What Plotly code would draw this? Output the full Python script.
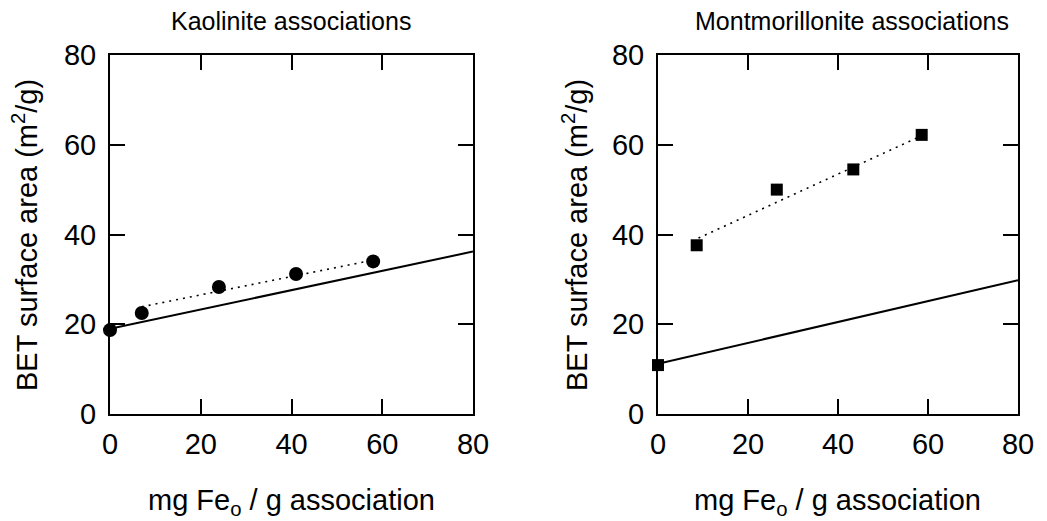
import plotly.graph_objects as go

# Kaolinite associations
kao_x = [0, 7, 24, 41, 58]
kao_y = [18.7, 22.5, 28.3, 31.2, 34.0]
kao_fit_x = [7, 58]
kao_fit_y = [23.9, 34.3]
kao_line_x = [0, 80]
kao_line_y = [19.0, 36.2]

# Montmorillonite associations
mont_x = [0, 8.6, 26.4, 43.4, 58.6]
mont_y = [10.9, 37.6, 50.0, 54.5, 62.2]
mont_fit_x = [9, 59]
mont_fit_y = [39.2, 62.2]
mont_line_x = [0, 80]
mont_line_y = [11.2, 29.8]

titles = ["Kaolinite associations", "Montmorillonite associations"]
tick_vals = [0, 20, 40, 60, 80]
x_title = "mg Fe<sub>o</sub> / g association"
y_title = "BET surface area (m<sup>2</sup>/g)"

FONT = "Liberation Sans, Arial, Helvetica, sans-serif"
W, H = 1047, 521
OFF = 8  # page body margin offset


def px(x):
    return (x - OFF) / W


def py(y):
    return 1 - (y - OFF) / H


fig = go.Figure()

# left panel
fig.add_trace(go.Scatter(x=kao_line_x, y=kao_line_y, mode="lines",
                         line=dict(color="black", width=2), xaxis="x", yaxis="y",
                         showlegend=False, cliponaxis=False))
fig.add_trace(go.Scatter(x=kao_fit_x, y=kao_fit_y, mode="lines",
                         line=dict(color="black", width=1.6, dash="2px,5px"), xaxis="x", yaxis="y",
                         showlegend=False))
fig.add_trace(go.Scatter(x=kao_x, y=kao_y, mode="markers",
                         marker=dict(symbol="circle", size=14, color="black"),
                         xaxis="x", yaxis="y", showlegend=False, cliponaxis=False))

# right panel
fig.add_trace(go.Scatter(x=mont_line_x, y=mont_line_y, mode="lines",
                         line=dict(color="black", width=2), xaxis="x2", yaxis="y2",
                         showlegend=False, cliponaxis=False))
fig.add_trace(go.Scatter(x=mont_fit_x, y=mont_fit_y, mode="lines",
                         line=dict(color="black", width=1.6, dash="2px,5px"), xaxis="x2", yaxis="y2",
                         showlegend=False))
fig.add_trace(go.Scatter(x=mont_x, y=mont_y, mode="markers",
                         marker=dict(symbol="square", size=12, color="black"),
                         xaxis="x2", yaxis="y2", showlegend=False, cliponaxis=False))

axis_common = dict(range=[0, 80], tickvals=tick_vals, showgrid=False, zeroline=False,
                   showline=True, linecolor="black", linewidth=2, mirror="ticks",
                   ticks="inside", ticklen=15, tickwidth=2, tickcolor="black",
                   automargin=False,
                   tickfont=dict(family=FONT, size=29, color="black"))

fig.update_layout(
    width=W, height=H,
    margin=dict(l=0, r=0, t=0, b=0, pad=0, autoexpand=False),
    paper_bgcolor="white", plot_bgcolor="white",
    font=dict(family=FONT, color="black"),
    xaxis=dict(domain=[px(110), px(473)], anchor="y", ticklabelstandoff=3, **axis_common),
    yaxis=dict(domain=[py(414), py(55)], anchor="x", ticklabelstandoff=6, **axis_common),
    xaxis2=dict(domain=[px(658), px(1018)], anchor="y2", ticklabelstandoff=3, **axis_common),
    yaxis2=dict(domain=[py(414), py(55)], anchor="x2", ticklabelstandoff=6, **axis_common),
)

anns = []
for text, xc, yc in [(titles[0], 291, 21), (titles[1], 852, 21)]:
    anns.append(dict(text=text, x=px(xc), y=py(yc), xref="paper", yref="paper",
                     showarrow=False, xanchor="center", yanchor="middle",
                     font=dict(family=FONT, size=25, color="black")))
# x axis titles
for xc in [291, 837]:
    anns.append(dict(text=x_title, x=px(xc), y=py(502), xref="paper", yref="paper",
                     showarrow=False, xanchor="center", yanchor="middle",
                     font=dict(family=FONT, size=29, color="black")))
# y axis titles
for xc in [25, 575]:
    anns.append(dict(text=y_title, x=px(xc), y=py(235), xref="paper", yref="paper",
                     showarrow=False, xanchor="center", yanchor="middle", textangle=-90,
                     font=dict(family=FONT, size=29, color="black")))
fig.update_layout(annotations=anns)

fig.write_html("out.html")
